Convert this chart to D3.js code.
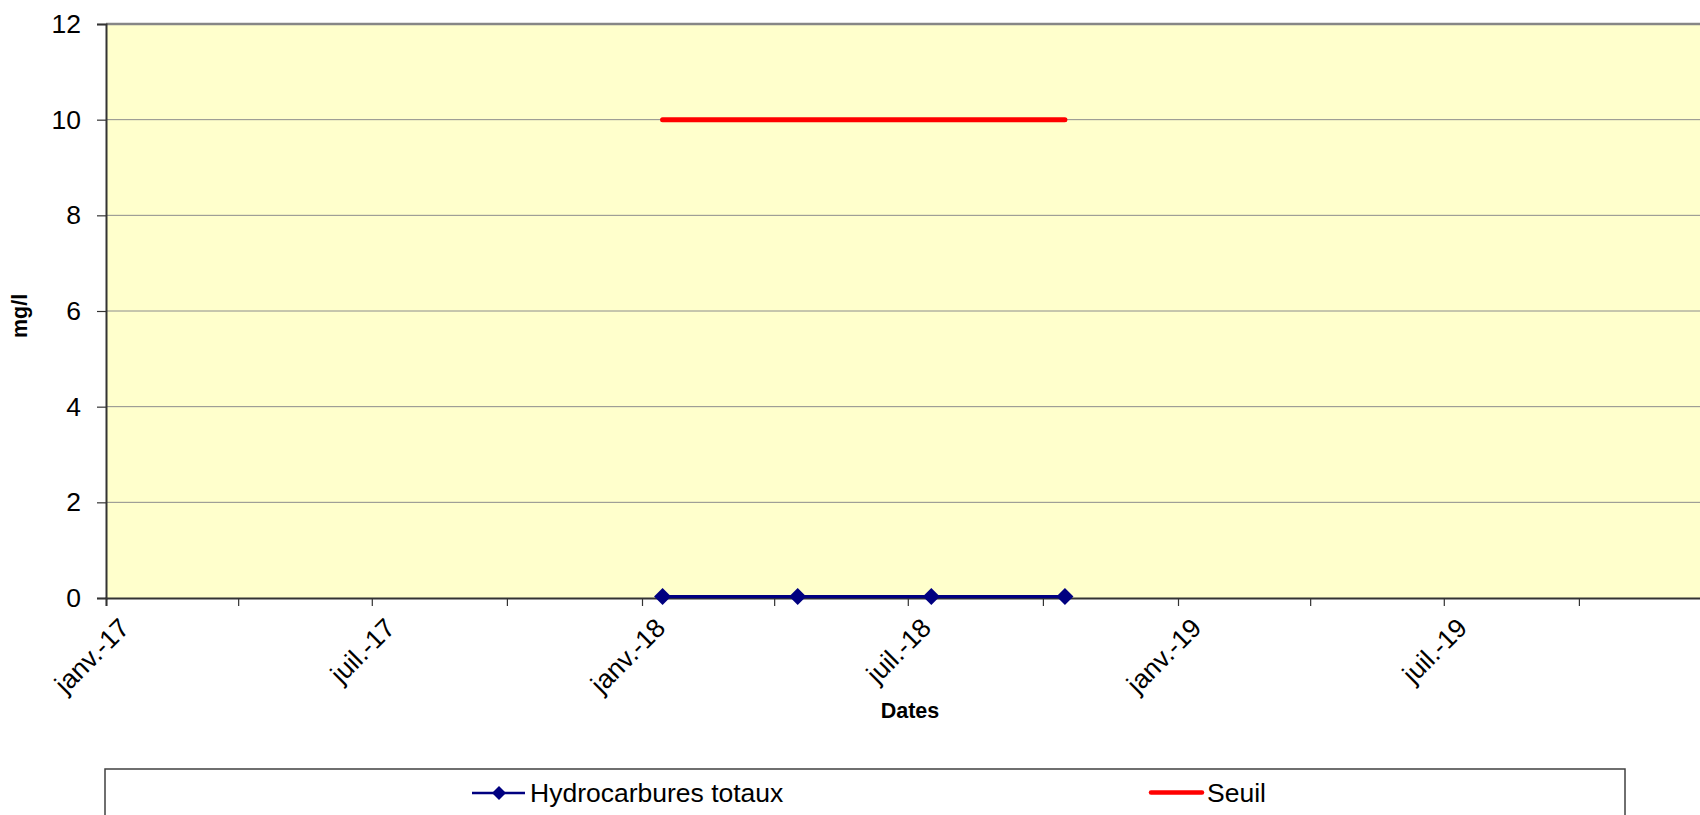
<!DOCTYPE html>
<html>
<head>
<meta charset="utf-8">
<script src="https://cdn.jsdelivr.net/npm/d3@7"></script>
<style>
  html, body { margin: 0; padding: 0; background: #ffffff; }
  svg { display: block; font-family: "Liberation Sans", Arial, sans-serif; }
</style>
</head>
<body>
<svg id="chart" width="1700" height="815"></svg>
<script>
// Sampling dates and measured values (mg/l)
const sampleDates = ["2018-01-15", "2018-04-17", "2018-07-17", "2018-10-16"];
const hydrocarbures = [0.03, 0.03, 0.03, 0.03];
const seuil = [10, 10, 10, 10];

// Axis settings
const yTicks = [0, 2, 4, 6, 8, 10, 12];
const xTickDates = ["2017-01-01", "2017-04-01", "2017-07-01", "2017-10-01",
                    "2018-01-01", "2018-04-01", "2018-07-01", "2018-10-01",
                    "2019-01-01", "2019-04-01", "2019-07-01", "2019-10-01"];
const xTickLabels = ["janv.-17", "", "juil.-17", "",
                     "janv.-18", "", "juil.-18", "",
                     "janv.-19", "", "juil.-19", ""];
const seriesNames = ["Hydrocarbures totaux", "Seuil"];

const parse = d3.timeParse("%Y-%m-%d");
const svg = d3.select("#chart");

const plot = { left: 106, top: 24, right: 1714, bottom: 598 };

const x = d3.scaleTime()
  .domain([parse("2017-01-01"), parse("2020-01-01")])
  .range([plot.left, plot.right]);
const y = d3.scaleLinear()
  .domain([0, 12])
  .range([plot.bottom, plot.top]);

// Plot background
svg.append("rect")
  .attr("x", plot.left).attr("y", plot.top)
  .attr("width", plot.right - plot.left).attr("height", plot.bottom - plot.top)
  .attr("fill", "#ffffcc");

// Horizontal gridlines
svg.append("g")
  .selectAll("line")
  .data(yTicks.filter(v => v > 0 && v < 12))
  .join("line")
  .attr("x1", plot.left).attr("x2", plot.right)
  .attr("y1", d => y(d)).attr("y2", d => y(d))
  .attr("stroke", "#8c8c8c").attr("stroke-width", 1);

// Top border of plot area
svg.append("line")
  .attr("x1", plot.left).attr("x2", plot.right)
  .attr("y1", y(12)).attr("y2", y(12))
  .attr("stroke", "#868686").attr("stroke-width", 2.5);

// Y axis
const yAxis = svg.append("g")
  .attr("transform", `translate(${plot.left},0)`)
  .call(d3.axisLeft(y).tickValues(yTicks).tickSize(9).tickPadding(16).tickFormat(d3.format("d")));
yAxis.select(".domain").attr("stroke", "#333").attr("stroke-width", 2);
yAxis.selectAll(".tick line").attr("stroke", "#333").attr("stroke-width", 1.2);
yAxis.selectAll(".tick text")
  .attr("font-size", "26.5px").attr("fill", "#000")
  .attr("font-family", "Liberation Sans, Arial, sans-serif");

// X axis
const tickDates = xTickDates.map(parse);
const xAxis = svg.append("g")
  .attr("transform", `translate(0,${plot.bottom})`)
  .call(d3.axisBottom(x).tickValues(tickDates).tickSize(8)
    .tickFormat((d, i) => xTickLabels[i]));
xAxis.select(".domain").attr("stroke", "#333").attr("stroke-width", 2);
xAxis.selectAll(".tick line").attr("stroke", "#333").attr("stroke-width", 1.2);
xAxis.selectAll(".tick text")
  .attr("font-size", "26.5px").attr("fill", "#000")
  .attr("font-family", "Liberation Sans, Arial, sans-serif")
  .attr("text-anchor", "end")
  .attr("y", 0).attr("dy", "0.72em")
  .attr("transform", "translate(11,18) rotate(-45)");

// Axis titles
svg.append("text")
  .attr("transform", `translate(27,316) rotate(-90)`)
  .attr("text-anchor", "middle")
  .attr("font-size", "21.5px").attr("font-weight", "bold")
  .text("mg/l");
svg.append("text")
  .attr("x", 910).attr("y", 718)
  .attr("text-anchor", "middle")
  .attr("font-size", "21.5px").attr("font-weight", "bold")
  .text("Dates");

// Series data
const hcData = sampleDates.map((d, i) => ({ date: parse(d), value: hydrocarbures[i] }));
const seuilData = sampleDates.map((d, i) => ({ date: parse(d), value: seuil[i] }));
const line = d3.line().x(d => x(d.date)).y(d => y(d.value));

// Threshold line
svg.append("path")
  .datum(seuilData)
  .attr("d", line)
  .attr("fill", "none")
  .attr("stroke", "#ff0000").attr("stroke-width", 5)
  .attr("stroke-linecap", "round");

// Measured series
svg.append("path")
  .datum(hcData)
  .attr("d", line)
  .attr("fill", "none")
  .attr("stroke", "#000080").attr("stroke-width", 3.2);

const diamondPath = s => `M0,${-s}L${s},0L0,${s}L${-s},0Z`;
svg.append("g")
  .selectAll("path")
  .data(hcData)
  .join("path")
  .attr("transform", d => `translate(${x(d.date)},${y(d.value)})`)
  .attr("d", diamondPath(8.5))
  .attr("fill", "#000080");

// Legend
const legend = svg.append("g");
legend.append("rect")
  .attr("x", 105).attr("y", 769)
  .attr("width", 1520).attr("height", 70)
  .attr("fill", "#ffffff")
  .attr("stroke", "#404040").attr("stroke-width", 1.5);

legend.append("line")
  .attr("x1", 472).attr("x2", 525).attr("y1", 793).attr("y2", 793)
  .attr("stroke", "#000080").attr("stroke-width", 2.5);
legend.append("path")
  .attr("transform", "translate(499,793)")
  .attr("d", diamondPath(7))
  .attr("fill", "#000080");
legend.append("text")
  .attr("x", 530).attr("y", 802)
  .attr("font-size", "26.5px")
  .text(seriesNames[0]);

legend.append("line")
  .attr("x1", 1151).attr("x2", 1202).attr("y1", 792.5).attr("y2", 792.5)
  .attr("stroke", "#ff0000").attr("stroke-width", 4.5)
  .attr("stroke-linecap", "round");
legend.append("text")
  .attr("x", 1207).attr("y", 802)
  .attr("font-size", "26.5px")
  .text(seriesNames[1]);
</script>
</body>
</html>
